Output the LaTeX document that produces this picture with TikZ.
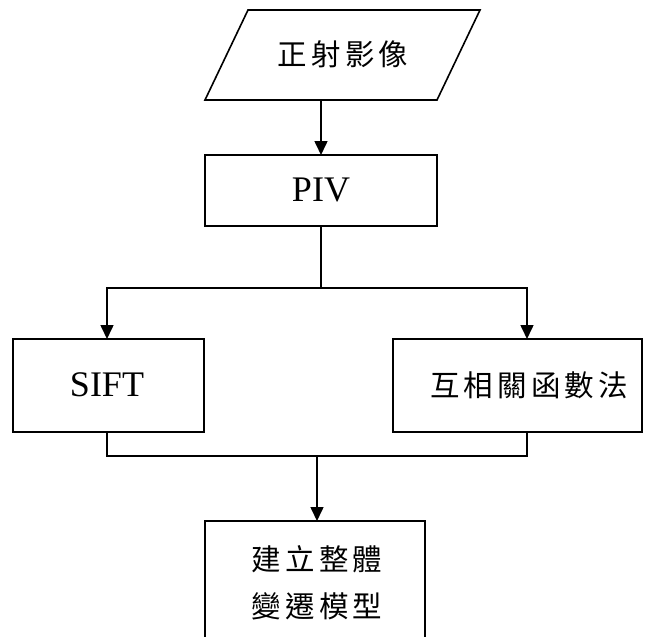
\documentclass[tikz,border=0pt]{standalone}
\usepackage{fontspec}
\setmainfont{Liberation Serif}
\newfontfamily\cjk[LetterSpace=14]{Noto Sans CJK TC}
\usetikzlibrary{arrows.meta}
\tikzset{
  box/.style={draw, line width=1.6pt},
  lbl/.style={inner sep=0pt, font=\fontsize{36}{42}\selectfont},
  clbl/.style={inner sep=0pt, font=\fontsize{29.5}{47}\selectfont\cjk, align=center},
  link/.style={line width=1.6pt},
  flow/.style={line width=1.6pt, -{Triangle[length=14pt,width=13pt]}}
}
\begin{document}
\begin{tikzpicture}[x=1pt,y=-1pt]
\useasboundingbox (0,0) rectangle (654,637);
\clip (0,0) rectangle (654,637);

% input parallelogram
\coordinate (pa) at (248,10);
\coordinate (pb) at (480,10);
\coordinate (pc) at (437,100);
\coordinate (pd) at (205,100);
\draw[box] (pa) -- (pb) -- (pc) -- (pd) -- cycle;
\node[clbl] (img) at (343,54) {正射影像};
\coordinate (imgout) at (321,100);

% processing boxes
\draw[box] (205,155) rectangle (437,226);
\node[lbl] (piv) at (321,190) {PIV};
\coordinate (pivin) at (321,155);
\coordinate (pivout) at (321,226);

\draw[box] (13,339) rectangle (204,432);
\node[lbl] (sift) at (107,385) {SIFT};
\coordinate (siftin) at (107,339);
\coordinate (siftout) at (107,432);

\draw[box] (393,339) rectangle (642,432);
\node[clbl] (corr) at (529,385) {互相關函數法};
\coordinate (corrin) at (527,339);
\coordinate (corrout) at (527,432);

\draw[box] (205,521) rectangle (425,660);
\node[clbl] (model) at (317,583) {建立整體\\變遷模型};
\coordinate (modelin) at (317,521);

% connectors
\coordinate (split) at (321,288);
\coordinate (merge) at (317,456);
\draw[flow] (imgout) -- (pivin);
\draw[link] (pivout) -- (split);
\draw[flow] (split) -| (siftin);
\draw[flow] (split) -| (corrin);
\draw[link] (siftout) |- (merge);
\draw[link] (corrout) |- (merge);
\draw[flow] (merge) -- (modelin);
\end{tikzpicture}
\end{document}
